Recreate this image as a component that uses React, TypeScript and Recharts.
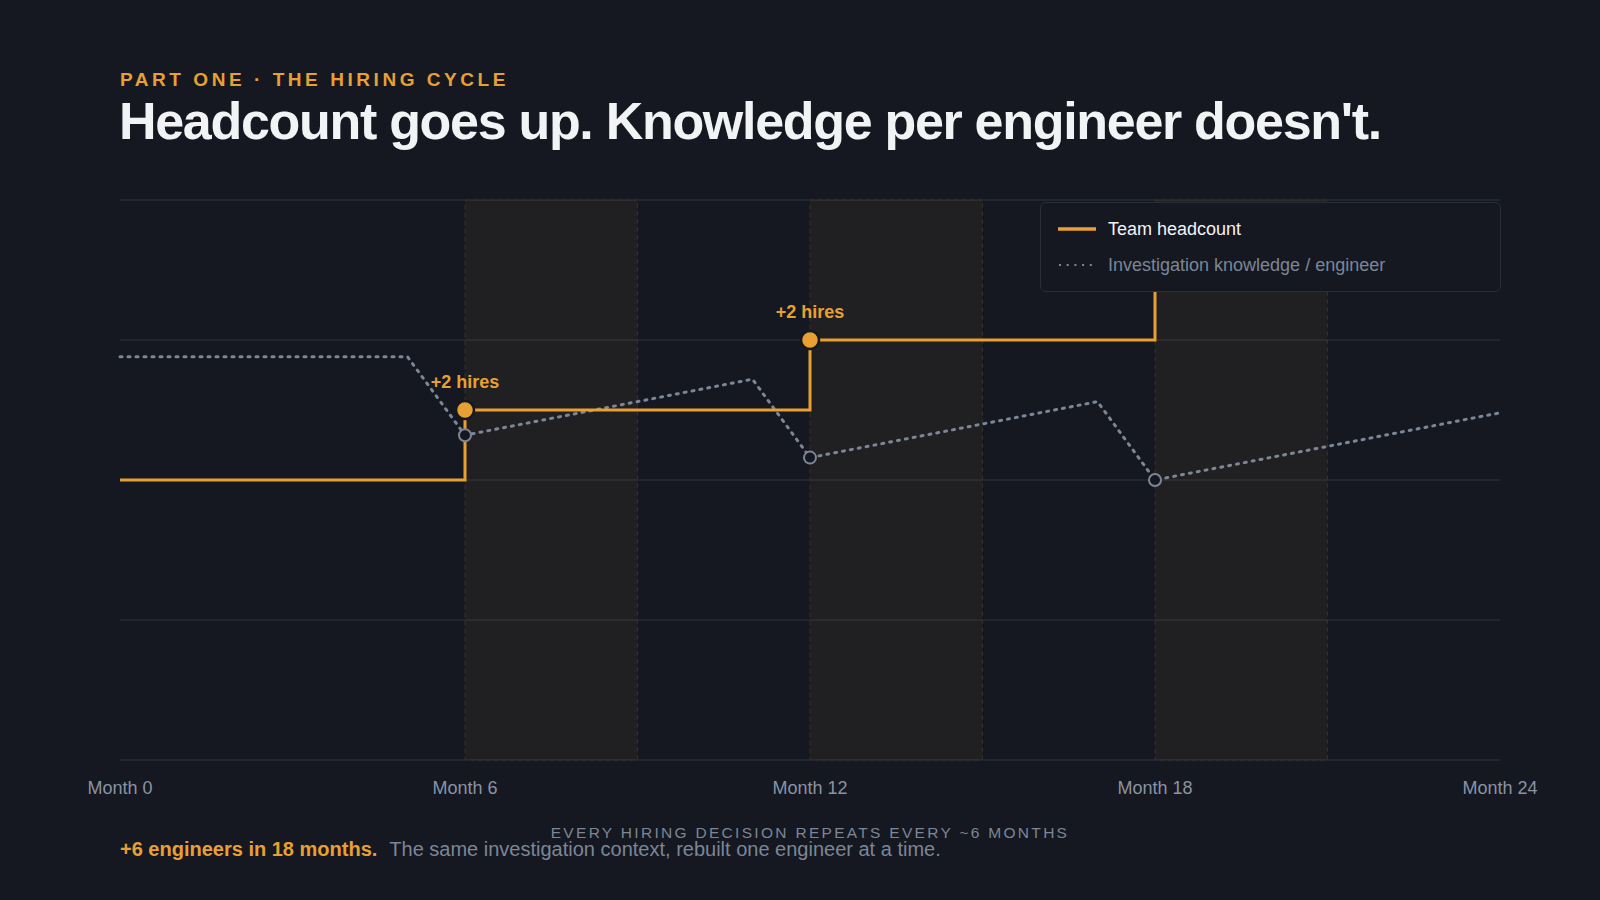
import React from 'react';
import {
    LineChart, Line, XAxis, YAxis, CartesianGrid, ReferenceArea, ReferenceDot, Label,
} from 'recharts';

// Month positions shown on the axis
const monthTicks = [0, 6, 12, 18, 24];

// Team headcount (engineers), stepped at each hiring round
const headcountMonths = [0, 6, 12, 18, 24];
const headcountValues = [8, 10, 12, 14, 14];

// Investigation knowledge per engineer (index, 0-100)
const knowledgeMonths = [0, 5, 6, 11, 12, 17, 18, 24];
const knowledgeValues = [72, 72, 58, 68, 54, 64, 50, 62];

// Hiring rounds and onboarding windows (the last round's callout sits under the legend)
const hireMonths = [6, 12, 18];
const hireLabels = ['+2 hires', '+2 hires', ''];
const onboardingEnds = [9, 15, 21];

const BG = '#151821';
const ORANGE = '#e8a033';
const GREY = '#7c8696';
const FONT = '"Liberation Sans", Arial, Helvetica, sans-serif';

const headcountData = headcountMonths.map((month, i) => ({ month, headcount: headcountValues[i] }));
const knowledgeData = knowledgeMonths.map((month, i) => ({ month, knowledge: knowledgeValues[i] }));
const hires = hireMonths.map((month, i) => ({
    month,
    headcount: headcountValues[headcountMonths.indexOf(month)],
    label: hireLabels[i],
    end: onboardingEnds[i],
}));

function KnowledgeDot(props: any) {
    const { cx, cy, payload } = props;
    if (!hireMonths.includes(payload.month)) return <g />;
    return <circle cx={cx} cy={cy} r={6} fill={BG} stroke={GREY} strokeWidth={2} />;
}

function LegendBox() {
    return (
        <div style={{
            position: 'absolute', left: 1040, top: 202,
            boxSizing: 'border-box', width: 461, height: 90, background: BG,
            border: '1px solid #2a2e38', borderRadius: 6, fontFamily: FONT, fontSize: 18,
            padding: '0 0 0 17px',
        }}>
            <div style={{ display: 'flex', alignItems: 'center', height: 18, marginTop: 17 }}>
                <svg width={38} height={6} style={{ marginRight: 12 }}>
                    <line x1={0} y1={3} x2={38} y2={3} stroke={ORANGE} strokeWidth={3.5} />
                </svg>
                <span style={{ color: '#f2f3f5' }}>Team headcount</span>
            </div>
            <div style={{ display: 'flex', alignItems: 'center', height: 18, marginTop: 18 }}>
                <svg width={38} height={6} style={{ marginRight: 12 }}>
                    <line x1={1} y1={3} x2={38} y2={3} stroke={GREY} strokeWidth={2.2}
                        strokeDasharray="2 5.7" />
                </svg>
                <span style={{ color: GREY }}>Investigation knowledge / engineer</span>
            </div>
        </div>
    );
}

export default function App() {
    return (
        <div style={{
            position: 'absolute', left: 0, top: 0, width: 1600, height: 900,
            background: BG, overflow: 'hidden', fontFamily: FONT,
        }}>
            <div style={{
                position: 'absolute', left: 120, top: 70, fontSize: 19, lineHeight: 1,
                fontWeight: 700, letterSpacing: 3.55, color: ORANGE, whiteSpace: 'nowrap',
            }}>
                PART ONE · THE HIRING CYCLE
            </div>
            <div style={{
                position: 'absolute', left: 119, top: 95, fontSize: 52, lineHeight: 1,
                fontWeight: 700, letterSpacing: -1.3, color: '#f2f3f5', whiteSpace: 'nowrap',
            }}>
                Headcount goes up. Knowledge per engineer doesn't.
            </div>

            <LineChart
                width={1600}
                height={900}
                margin={{ top: 200, right: 100, left: 120, bottom: 110 }}
                style={{ position: 'absolute', left: 0, top: 0 }}
            >
                <CartesianGrid vertical={false} stroke="#262a33" strokeWidth={1.5} yAxisId="hc" />
                {/* onboarding windows after each hiring round */}
                {hires.map((h) => (
                    <ReferenceArea
                        key={`band-${h.month}`}
                        yAxisId="hc"
                        x1={h.month}
                        x2={h.end}
                        y1={0}
                        y2={16}
                        fill={ORANGE}
                        fillOpacity={0.055}
                        stroke="#3a3228"
                        strokeDasharray="4 4"
                        strokeWidth={1}
                    />
                ))}
                <XAxis
                    dataKey="month"
                    type="number"
                    domain={[0, 24]}
                    ticks={monthTicks}
                    tickFormatter={(m: number) => `Month ${m}`}
                    axisLine={false}
                    tickLine={false}
                    tickMargin={15}
                    height={30}
                    tick={{ fill: '#8a93a3', fontSize: 18, fontFamily: FONT }}
                    allowDuplicatedCategory={false}
                />
                <YAxis yAxisId="hc" hide domain={[0, 16]} ticks={[0, 4, 8, 12, 16]} />
                <YAxis yAxisId="kn" hide domain={[0, 100]} orientation="right" />
                <Line
                    yAxisId="kn"
                    data={knowledgeData}
                    dataKey="knowledge"
                    type="linear"
                    stroke={GREY}
                    strokeWidth={3}
                    strokeDasharray="2 6"
                    strokeLinecap="round"
                    dot={false}
                    activeDot={false}
                    isAnimationActive={false}
                    name="Investigation knowledge / engineer"
                />
                <Line
                    yAxisId="hc"
                    data={headcountData}
                    dataKey="headcount"
                    type="stepAfter"
                    stroke={ORANGE}
                    strokeWidth={3}
                    dot={false}
                    activeDot={false}
                    isAnimationActive={false}
                    name="Team headcount"
                />
                {hires.map((h) => (
                    <ReferenceDot
                        key={`hire-${h.month}`}
                        yAxisId="hc"
                        x={h.month}
                        y={h.headcount}
                        r={9}
                        fill={ORANGE}
                        stroke={BG}
                        strokeWidth={2.5}
                    >
                        {h.label ? (
                            <Label
                                value={h.label}
                                position="top"
                                offset={13}
                                fill={ORANGE}
                                fontSize={18}
                                fontWeight={700}
                                fontFamily={FONT}
                            />
                        ) : null}
                    </ReferenceDot>
                ))}
                {/* knowledge markers sit on top of the hire dots */}
                <Line
                    yAxisId="kn"
                    data={knowledgeData}
                    dataKey="knowledge"
                    stroke="none"
                    dot={<KnowledgeDot />}
                    activeDot={false}
                    legendType="none"
                    isAnimationActive={false}
                />
            </LineChart>

            <LegendBox />

            <div style={{
                position: 'absolute', left: 0, width: 1620, top: 825, textAlign: 'center',
                fontSize: 15.5, lineHeight: 1, letterSpacing: 2.3, color: GREY,
            }}>
                EVERY HIRING DECISION REPEATS EVERY ~6 MONTHS
            </div>
            <div style={{
                position: 'absolute', left: 120, top: 839, fontSize: 20, lineHeight: 1,
                whiteSpace: 'nowrap',
            }}>
                <span style={{ color: ORANGE, fontWeight: 700 }}>+6 engineers in 18 months.</span>
                <span style={{ color: GREY, marginLeft: 12 }}>
                    The same investigation context, rebuilt one engineer at a time.
                </span>
            </div>
        </div>
    );
}
